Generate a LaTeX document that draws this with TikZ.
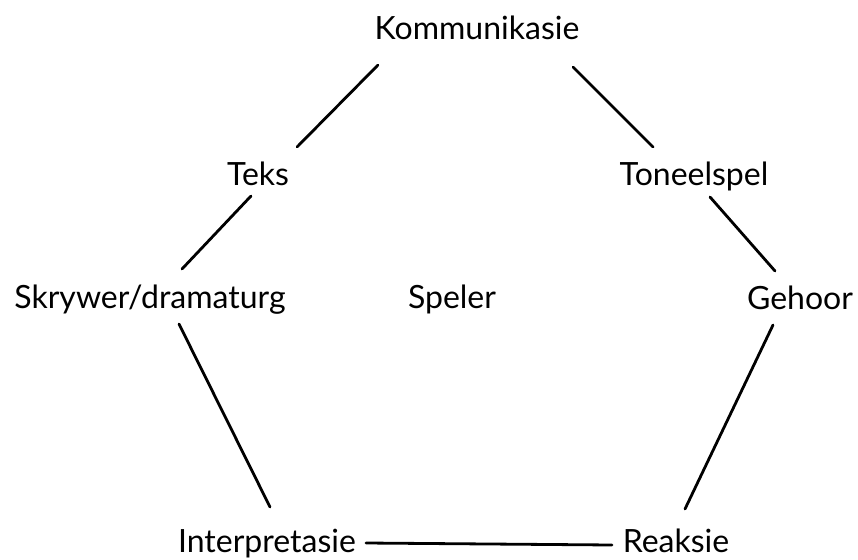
\documentclass[tikz,border=0pt]{standalone}
\usepackage{fontspec}
\setmainfont{Lato}
\begin{document}
\begin{tikzpicture}[x=1pt,y=-1pt,
  lbl/.style={anchor=base,inner sep=0pt,font=\fontsize{32}{38}\selectfont},
  con/.style={line width=2.8pt,line cap=round}]
\useasboundingbox (0,0) rectangle (858,559);
\node[lbl] (kom) at (477,40) {Kommunikasie};
\node[lbl] (teks) at (258,185) {Teks};
\node[lbl] (ton) at (694,185) {Toneelspel};
\node[lbl] (skr) at (150,308) {Skrywer/dramaturg};
\node[lbl] (spe) at (452,308) {Speler};
\node[lbl] (geh) at (800,309) {Gehoor};
\node[lbl] (int) at (267,552) {Interpretasie};
\node[lbl] (rea) at (676,552) {Reaksie};
\draw[con] ([shift={(-99,25)}]kom.base) -- ([shift={(39,-38)}]teks.base);
\draw[con] ([shift={(96,27)}]kom.base) -- ([shift={(-41,-38)}]ton.base);
\draw[con] ([shift={(-7,11)}]teks.base) -- ([shift={(32,-39)}]skr.base);
\draw[con] ([shift={(16,12)}]ton.base) -- ([shift={(-25,-38)}]geh.base);
\draw[con] ([shift={(29,16)}]skr.base) -- ([shift={(3,-45)}]int.base);
\draw[con] ([shift={(-27,16)}]geh.base) -- ([shift={(9,-43)}]rea.base);
\draw[con] ([shift={(99,-9)}]int.base) -- ([shift={(-64,-7)}]rea.base);
\end{tikzpicture}
\end{document}
